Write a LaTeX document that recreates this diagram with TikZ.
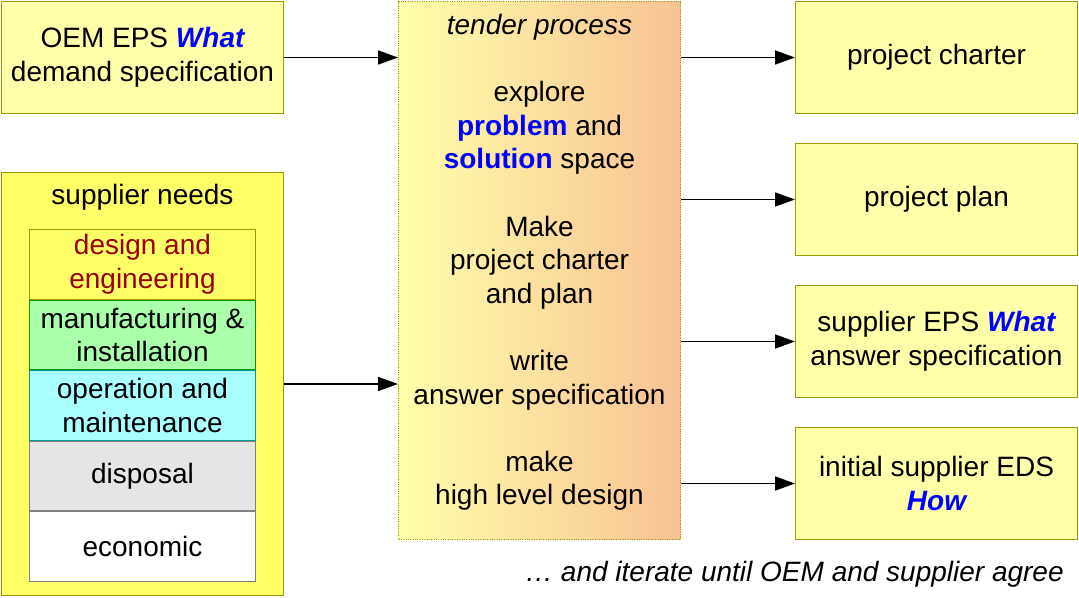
\documentclass[tikz,border=0pt]{standalone}
\usepackage{fontspec}
\setmainfont{Liberation Sans}
\usepackage{tikz}
\usetikzlibrary{arrows.meta,positioning}

\definecolor{specfill}{HTML}{FFFFAA}
\definecolor{specline}{HTML}{999900}
\definecolor{needsfill}{HTML}{FFFF66}
\definecolor{designred}{HTML}{990000}
\definecolor{makefill}{HTML}{AAFFAA}
\definecolor{makeline}{HTML}{009900}
\definecolor{runfill}{HTML}{AAFFFF}
\definecolor{runline}{HTML}{009999}
\definecolor{keyblue}{HTML}{0000FF}
\definecolor{tenderleft}{HTML}{FFFFAA}
\definecolor{tenderright}{HTML}{F8C294}
\newcommand{\kw}[1]{{\color{keyblue}\bfseries #1}}
\newcommand{\kwi}[1]{{\color{keyblue}\bfseries\itshape #1}}

\begin{document}
\begin{tikzpicture}[x=0.75pt,y=-0.75pt,
  every node/.style={font=\fontsize{21}{25.2}\selectfont, align=center, inner sep=0pt},
  spec/.style={draw=specline, fill=specfill, line width=0.75pt, minimum width=211.5pt, minimum height=84pt},
  need/.style={line width=0.75pt, minimum width=169.5pt, minimum height=52.2pt},
  flow/.style={-{Triangle[length=15pt,width=10.5pt]}, line width=1.3pt}]
  \useasboundingbox (0,0) rectangle (1079,597);

  % inputs
  \node[spec] (oem) at (142.5,57.5) {OEM EPS \kwi{What}\\demand specification};
  \node[draw=specline, fill=needsfill, line width=0.75pt, minimum width=211.5pt, minimum height=317.25pt] (needs) at (142.5,384) {};
  \node (needstitle) at (142.5,197) {supplier needs};
  \node[need, draw=specline, fill=needsfill, text=designred] (design) at (142.5,264.3) {design and\\engineering};
  \node[need, draw=makeline, fill=makefill, below=0pt of design] (manufacture) {manufacturing \&\\installation};
  \node[need, draw=runline, fill=runfill, below=0pt of manufacture] (operation) {operation and\\maintenance};
  \node[need, draw=gray, fill=black!10, below=0pt of operation] (disposal) {disposal};
  \node[need, draw=gray, fill=white, below=0pt of disposal] (economic) {economic};

  % process
  \node[draw=specline, densely dotted, line width=0.75pt, left color=tenderleft, right color=tenderright,
        minimum width=211.5pt, minimum height=403.5pt] (tender) at (539.5,270.5) {};
  \node (steps) at (539.5,262.5) {\itshape tender process\\[25.2pt]
    explore\\\kw{problem} and\\\kw{solution} space\\[25.2pt]
    Make\\project charter\\and plan\\[25.2pt]
    write\\answer specification\\[25.2pt]
    make\\high level design};

  % outputs
  \node[spec] (charter) at (936.5,57.5) {project charter};
  \node[spec, below=21.75pt of charter] (plan) {project plan};
  \node[spec, below=21.75pt of plan] (eps) {supplier EPS \kwi{What}\\answer specification};
  \node[spec, below=21.75pt of eps] (eds) {initial supplier EDS\\\kwi{How}};

  \node[anchor=east, font=\fontsize{21}{25.2}\selectfont\itshape] (agree) at (1064,574) {… and iterate until OEM and supplier agree};

  \draw[flow] (oem) -- (tender.west |- oem);
  \draw[flow] (needs) -- (tender.west |- needs);
  \foreach \out in {charter,plan,eps,eds}
    \draw[flow] (tender.east |- \out) -- (\out);
\end{tikzpicture}
\end{document}
